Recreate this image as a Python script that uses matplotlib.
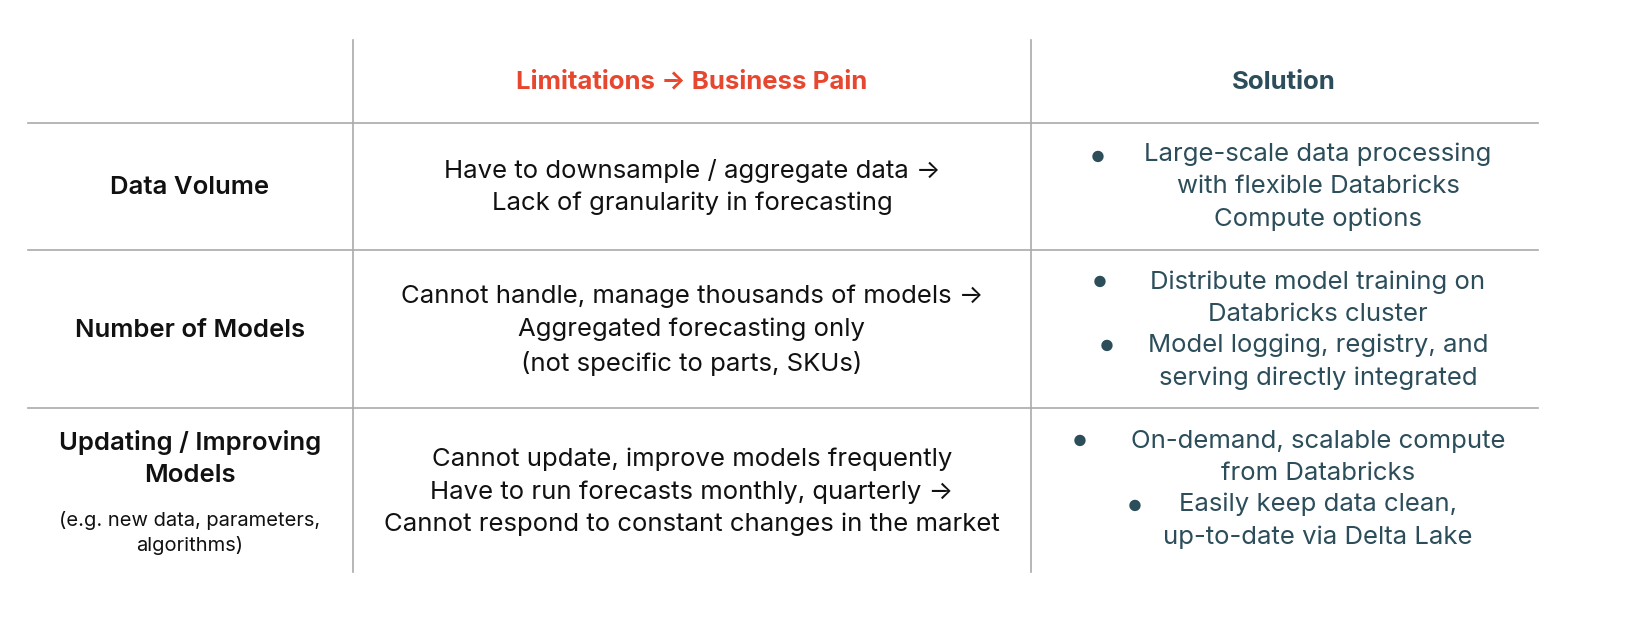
import matplotlib
matplotlib.use("Agg")
import matplotlib.pyplot as plt

headers = ["", "Limitations \u2192 Business Pain", "Solution"]
row_titles = ["Data Volume", "Number of Models", "Updating / Improving\nModels"]
row_notes = ["", "", "(e.g. new data, parameters,\nalgorithms)"]
pains = [
    "Have to downsample / aggregate data \u2192\nLack of granularity in forecasting",
    "Cannot handle, manage thousands of models \u2192\nAggregated forecasting only\n(not specific to parts, SKUs)",
    "Cannot update, improve models frequently\nHave to run forecasts monthly, quarterly \u2192\nCannot respond to constant changes in the market",
]
solutions = [
    ["Large-scale data processing\nwith flexible Databricks\nCompute options"],
    ["Distribute model training on\nDatabricks cluster", "Model logging, registry, and\nserving directly integrated"],
    ["On-demand, scalable compute\nfrom Databricks", "Easily keep data clean,\nup-to-date via Delta Lake"],
]
# layout (pixels)
sol_centers = [[187], [298, 362], [457, 521]]
bullets = [[(1098, 157)], [(1100, 282), (1107, 346)], [(1080, 441), (1135, 506)]]

W, H = 1648, 644
fig = plt.figure(figsize=(W/100, H/100), dpi=100)
ax = fig.add_axes([0, 0, 1, 1])
ax.set_xlim(0, W); ax.set_ylim(H, 0); ax.axis("off")
plt.rcParams['font.family'] = ['Inter', 'DejaVu Sans']
fs = 18.5
dark = "#111111"; teal = "#2C4D5A"; red = "#E8472F"; grid = "#AAAAAA"

for x in (353, 1031):
    ax.plot([x, x], [40, 572], color=grid, lw=1.2)
for y in (123, 250, 408):
    ax.plot([28, 1538], [y, y], color=grid, lw=1.2)

ax.text(692, 82, headers[1], ha="center", va="center", fontsize=fs, color=red, weight="bold")
ax.text(1284, 82, headers[2], ha="center", va="center", fontsize=fs, color=teal, weight="bold")

row_cy = [187, 330, 492]
ls = 1.5
for i in range(3):
    cy = row_cy[i]
    if row_notes[i]:
        ax.text(190, 458, row_titles[i], ha="center", va="center", fontsize=fs, color=dark,
                weight="semibold", linespacing=ls)
        ax.text(190, 533, row_notes[i], ha="center", va="center", fontsize=14.5, color=dark, linespacing=1.45)
    else:
        ax.text(190, cy, row_titles[i], ha="center", va="center", fontsize=fs, color=dark, weight="semibold")
    ax.text(692, cy, pains[i], ha="center", va="center", fontsize=fs, color=dark, linespacing=ls)
    for txt, scy in zip(solutions[i], sol_centers[i]):
        ax.text(1318, scy, txt, ha="center", va="center", fontsize=fs, color=teal, linespacing=ls)
    for bx, by in bullets[i]:
        ax.text(bx, by, "\u25CF", ha="center", va="center", fontsize=11, color=teal)

fig.savefig("out.png", dpi=100, facecolor="white")
